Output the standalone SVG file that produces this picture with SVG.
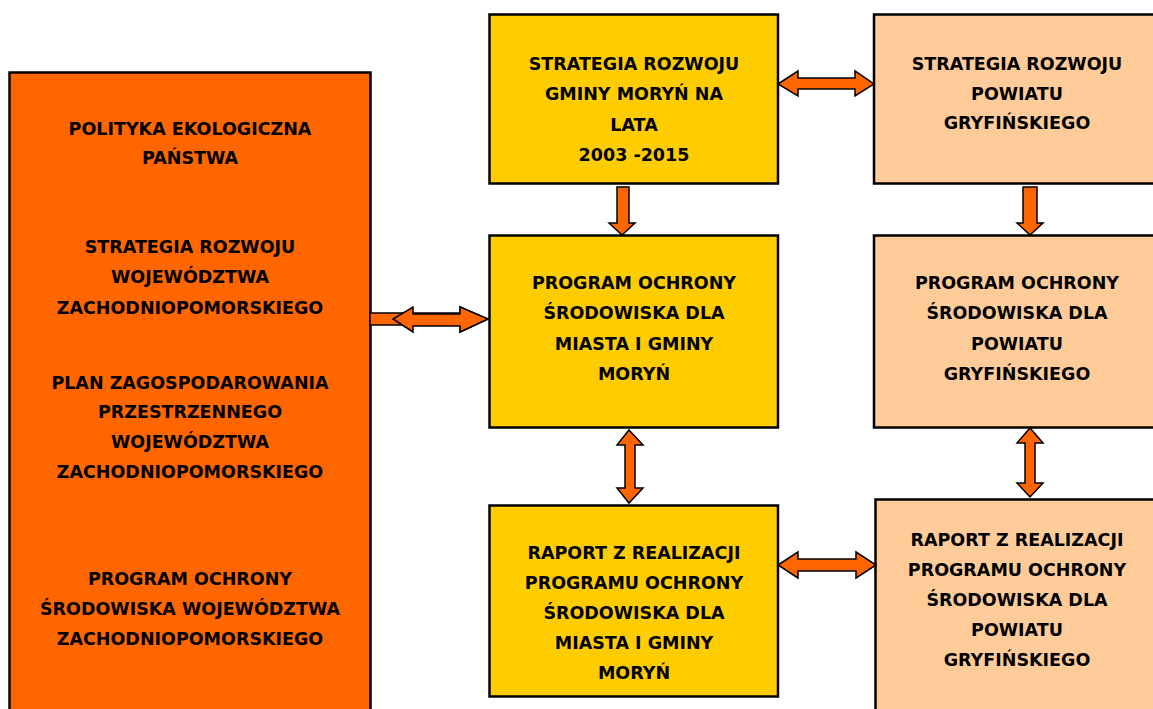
<svg xmlns="http://www.w3.org/2000/svg" width="1153" height="709" viewBox="0 0 1153 709">
<style>
.box{stroke:#000;stroke-width:2.5}
.o{fill:#FF6600}
.y{fill:#FFCC00}
.p{fill:#FFCC99}
.arr{fill:#FF6600;stroke:#000;stroke-width:1.5;stroke-linejoin:miter}
text{font-family:"DejaVu Sans","Liberation Sans",sans-serif;font-weight:bold;font-size:17.5px;fill:#000;text-anchor:middle}
</style>
<rect width="1153" height="709" fill="#fff"/>
<g id="node-left">
<rect class="box o" x="9.5" y="72.5" width="361" height="660"/>
<text x="190" y="135">POLITYKA EKOLOGICZNA</text>
<text x="190" y="164">PAŃSTWA</text>
<text x="190" y="253">STRATEGIA ROZWOJU</text>
<text x="190" y="283">WOJEWÓDZTWA</text>
<text x="190" y="314">ZACHODNIOPOMORSKIEGO</text>
<text x="190" y="389">PLAN ZAGOSPODAROWANIA</text>
<text x="190" y="418">PRZESTRZENNEGO</text>
<text x="190" y="448">WOJEWÓDZTWA</text>
<text x="190" y="478">ZACHODNIOPOMORSKIEGO</text>
<text x="190" y="585">PROGRAM OCHRONY</text>
<text x="190" y="615">ŚRODOWISKA WOJEWÓDZTWA</text>
<text x="190" y="645">ZACHODNIOPOMORSKIEGO</text>
</g>
<g id="node-strategia-gminy">
<rect class="box y" x="489.5" y="14.5" width="288.5" height="169"/>
<text x="634" y="70">STRATEGIA ROZWOJU</text>
<text x="634" y="100">GMINY MORYŃ NA</text>
<text x="634" y="131">LATA</text>
<text x="634" y="161">2003 -2015</text>
</g>
<g id="node-strategia-powiatu">
<rect class="box p" x="874" y="14.5" width="300" height="169"/>
<text x="1017" y="70">STRATEGIA ROZWOJU</text>
<text x="1017" y="100">POWIATU</text>
<text x="1017" y="129">GRYFIŃSKIEGO</text>
</g>
<g id="node-program-gminy">
<rect class="box y" x="489.5" y="235.5" width="288.5" height="192"/>
<text x="634" y="289">PROGRAM OCHRONY</text>
<text x="634" y="319">ŚRODOWISKA DLA</text>
<text x="634" y="350">MIASTA I GMINY</text>
<text x="634" y="380">MORYŃ</text>
</g>
<g id="node-program-powiatu">
<rect class="box p" x="874" y="235.5" width="300" height="192"/>
<text x="1017" y="289">PROGRAM OCHRONY</text>
<text x="1017" y="319">ŚRODOWISKA DLA</text>
<text x="1017" y="350">POWIATU</text>
<text x="1017" y="380">GRYFIŃSKIEGO</text>
</g>
<g id="node-raport-gminy">
<rect class="box y" x="489.5" y="505.5" width="288.5" height="191"/>
<text x="634" y="559">RAPORT Z REALIZACJI</text>
<text x="634" y="589">PROGRAMU OCHRONY</text>
<text x="634" y="619">ŚRODOWISKA DLA</text>
<text x="634" y="649">MIASTA I GMINY</text>
<text x="634" y="679">MORYŃ</text>
</g>
<g id="node-raport-powiatu">
<rect class="box p" x="875.5" y="499.5" width="300" height="240"/>
<text x="1017" y="546">RAPORT Z REALIZACJI</text>
<text x="1017" y="576">PROGRAMU OCHRONY</text>
<text x="1017" y="606">ŚRODOWISKA DLA</text>
<text x="1017" y="636">POWIATU</text>
<text x="1017" y="666">GRYFIŃSKIEGO</text>
</g>
<g id="connectors">
<path class="arr" d="M370,313 H460 V307 L488,319 L460,332 V325 H370 Z"/>
<path class="arr" d="M393,319 L413,307 V314 H460 V307 L488,319 L460,332 V326 H413 V332 Z"/>
<path class="arr" d="M778,84 L798,71 V78 H855 V71 L874,84 L855,96 V89 H798 V96 Z"/>
<path class="arr" d="M617,187 H629 V223 H635 L622,235 L609,223 H617 Z"/>
<path class="arr" d="M1023,187 H1037 V223 H1043 L1030,235 L1017,223 H1023 Z"/>
<path class="arr" d="M629,430 L643,445 H635 V488 H643 L629,503 L617,488 H625 V445 H617 Z"/>
<path class="arr" d="M1030,428 L1043,443 H1035 V483 H1043 L1030,497 L1017,483 H1025 V443 H1017 Z"/>
<path class="arr" d="M778,565 L798,552 V559 H856 V552 L876,565 L856,578 V571 H798 V578 Z"/>
</g>
</svg>
